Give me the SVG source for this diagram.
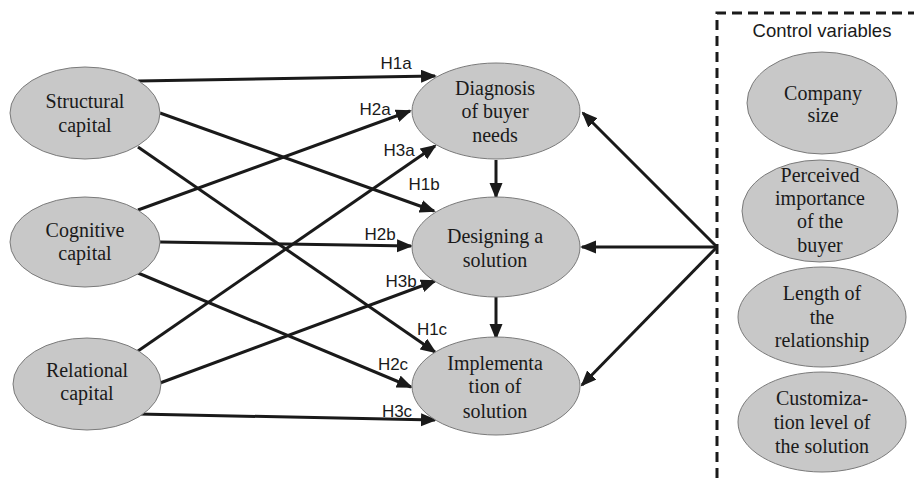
<svg xmlns="http://www.w3.org/2000/svg" width="914" height="478" viewBox="0 0 914 478">
<style>
.node ellipse{fill:#c8c8c8;stroke:#7a7a7a;stroke-width:1}
.node text{font-family:"Liberation Serif","Times New Roman",serif;font-size:20px;fill:#1a1a1a;text-anchor:middle}
.lbl{font-family:"Liberation Sans",Arial,sans-serif;font-size:17px;fill:#1a1a1a;text-anchor:middle}
.conn line{stroke:#1a1a1a;stroke-width:3;marker-end:url(#ah)}
.box{fill:none;stroke:#1a1a1a;stroke-width:3;stroke-dasharray:10,6}
</style>
<defs>
<marker id="ah" markerUnits="userSpaceOnUse" markerWidth="16" markerHeight="14" refX="14" refY="6.5" orient="auto">
<path d="M0,0 L16,6.5 L0,13 z" fill="#1a1a1a"/>
</marker>
</defs>
<rect width="914" height="478" fill="#ffffff"/>
<path class="box" d="M717,478 L717,13 L914,13"/>
<text class="lbl" x="822" y="37" style="font-size:18.5px">Control variables</text>

<g class="conn">
<line x1="138" y1="81" x2="435" y2="76"/>
<line x1="160" y1="113" x2="434" y2="211"/>
<line x1="138" y1="147" x2="435" y2="352"/>
<line x1="138" y1="210" x2="410" y2="111"/>
<line x1="160" y1="242" x2="411" y2="246"/>
<line x1="138" y1="273" x2="411" y2="387"/>
<line x1="138" y1="351" x2="435" y2="146"/>
<line x1="160" y1="383" x2="435" y2="281"/>
<line x1="138" y1="414" x2="435" y2="420"/>
<line x1="496" y1="160" x2="496" y2="197"/>
<line x1="496" y1="297" x2="496" y2="338"/>
<line x1="717" y1="247" x2="583" y2="113"/>
<line x1="717" y1="247" x2="582" y2="247"/>
<line x1="717" y1="247" x2="582" y2="385"/>
</g>

<g id="labels">
<text class="lbl" x="396" y="69">H1a</text>
<text class="lbl" x="375" y="115">H2a</text>
<text class="lbl" x="399" y="156">H3a</text>
<text class="lbl" x="424" y="190">H1b</text>
<text class="lbl" x="380" y="240">H2b</text>
<text class="lbl" x="401" y="287">H3b</text>
<text class="lbl" x="432" y="335">H1c</text>
<text class="lbl" x="393" y="370">H2c</text>
<text class="lbl" x="397" y="417">H3c</text>
</g>

<g id="structural" class="node">
<ellipse cx="85" cy="113" rx="75" ry="46"/>
<text x="85" y="108">Structural</text>
<text x="85" y="132">capital</text>
</g>
<g id="cognitive" class="node">
<ellipse cx="85" cy="242" rx="75" ry="45"/>
<text x="85" y="237">Cognitive</text>
<text x="85" y="260">capital</text>
</g>
<g id="relational" class="node">
<ellipse cx="87" cy="384" rx="74" ry="46"/>
<text x="87" y="377">Relational</text>
<text x="87" y="400">capital</text>
</g>
<g id="diagnosis" class="node">
<ellipse cx="496" cy="111" rx="84" ry="48"/>
<text x="495" y="95">Diagnosis</text>
<text x="495" y="118">of buyer</text>
<text x="495" y="142">needs</text>
</g>
<g id="designing" class="node">
<ellipse cx="496" cy="247" rx="84" ry="50"/>
<text x="495" y="243">Designing a</text>
<text x="495" y="267">solution</text>
</g>
<g id="implementation" class="node">
<ellipse cx="496" cy="386" rx="84" ry="49"/>
<text x="495" y="370">Implementa</text>
<text x="495" y="393">tion of</text>
<text x="495" y="418">solution</text>
</g>
<g id="company" class="node">
<ellipse cx="822" cy="103" rx="75" ry="51"/>
<text x="823" y="100">Company</text>
<text x="823" y="122">size</text>
</g>
<g id="perceived" class="node">
<ellipse cx="820" cy="211" rx="78" ry="51"/>
<text x="820" y="182">Perceived</text>
<text x="820" y="205">importance</text>
<text x="820" y="228">of the</text>
<text x="820" y="252">buyer</text>
</g>
<g id="length" class="node">
<ellipse cx="822" cy="317" rx="84" ry="50"/>
<text x="822" y="300">Length of</text>
<text x="822" y="324">the</text>
<text x="822" y="347">relationship</text>
</g>
<g id="customization" class="node">
<ellipse cx="822" cy="422" rx="84" ry="50"/>
<text x="822" y="405">Customiza-</text>
<text x="822" y="429">tion level of</text>
<text x="822" y="453">the solution</text>
</g>
</svg>
